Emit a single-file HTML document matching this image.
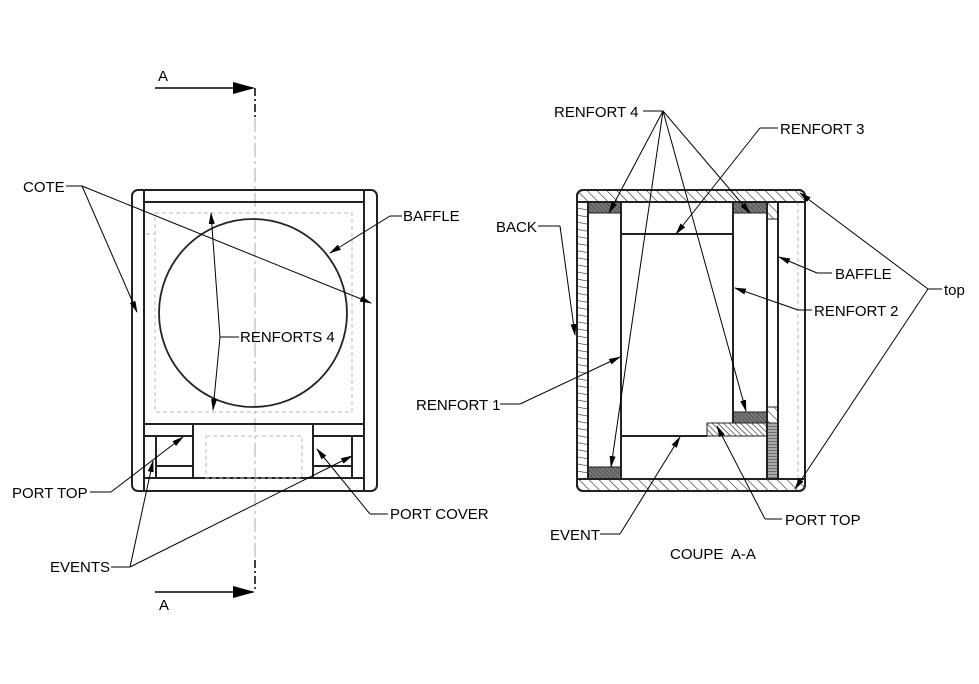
<!DOCTYPE html>
<html><head><meta charset="utf-8"><style>
html,body{margin:0;padding:0;background:#fff;}
svg{display:block}
text{font-family:"Liberation Sans",sans-serif;font-size:15px;fill:#000}
</style></head><body>
<svg width="979" height="684" viewBox="0 0 979 684" xmlns="http://www.w3.org/2000/svg">
<defs>
<marker id="ar" markerWidth="12" markerHeight="8" refX="11" refY="4" orient="auto" markerUnits="userSpaceOnUse"><path d="M0,1 L12,4 L0,7 Z" fill="#000"/></marker>
<pattern id="h1" width="7" height="7" patternUnits="userSpaceOnUse" patternTransform="rotate(-45)"><rect width="7" height="7" fill="#fff"/><line x1="0" y1="0" x2="0" y2="7" stroke="#222" stroke-width="1.2"/></pattern>
<pattern id="hl" width="7" height="7" patternUnits="userSpaceOnUse" patternTransform="rotate(-80)"><rect width="7" height="7" fill="#fff"/><line x1="0" y1="0" x2="0" y2="7" stroke="#222" stroke-width="1.2"/></pattern>
<pattern id="h2" width="3" height="3" patternUnits="userSpaceOnUse" patternTransform="rotate(-45)"><rect width="3" height="3" fill="#777"/><line x1="0" y1="0" x2="0" y2="3" stroke="#333" stroke-width="1"/></pattern>
<pattern id="h3" width="3" height="3" patternUnits="userSpaceOnUse"><rect width="3" height="3" fill="#aaa"/><line x1="0" y1="0" x2="3" y2="0" stroke="#333" stroke-width="1"/></pattern>
<pattern id="h4" width="4" height="4" patternUnits="userSpaceOnUse" patternTransform="rotate(-45)"><rect width="4" height="4" fill="#fff"/><line x1="0" y1="0" x2="0" y2="4" stroke="#222" stroke-width="1.2"/></pattern>
</defs>

<line x1="255" y1="88" x2="255" y2="118" stroke="#000" stroke-width="1.5" stroke-dasharray="8,3,2,3"/>
<line x1="255" y1="118" x2="255" y2="560" stroke="#aaa" stroke-width="1" stroke-dasharray="14,4,3,4"/>
<line x1="255" y1="560" x2="255" y2="592" stroke="#000" stroke-width="1.5" stroke-dasharray="8,3,2,3"/>
<line x1="155" y1="88" x2="253" y2="88" stroke="#000" stroke-width="1.5"/>
<path d="M233,82 L255,88 L233,94 Z" fill="#000"/>
<line x1="155" y1="592" x2="253" y2="592" stroke="#000" stroke-width="1.5"/>
<path d="M233,586 L255,592 L233,598 Z" fill="#000"/>
<text x="158" y="81">A</text>
<text x="159" y="610">A</text>

<g fill="none" stroke="#222" stroke-width="2">
<rect x="132" y="190" width="245" height="301" rx="6"/>
<line x1="144" y1="190" x2="144" y2="491"/>
<line x1="364" y1="190" x2="364" y2="491"/>
<line x1="144" y1="202" x2="364" y2="202"/>
<line x1="144" y1="478" x2="364" y2="478"/>
<line x1="144" y1="424" x2="364" y2="424"/>
<line x1="144" y1="436" x2="193" y2="436"/>
<line x1="313" y1="436" x2="364" y2="436"/>
<line x1="193" y1="424" x2="193" y2="478"/>
<line x1="313" y1="424" x2="313" y2="478"/>
<line x1="156" y1="436" x2="156" y2="478"/>
<line x1="352" y1="436" x2="352" y2="478"/>
<line x1="156" y1="466" x2="193" y2="466"/>
<line x1="313" y1="466" x2="352" y2="466"/>
<circle cx="253" cy="313" r="94" stroke-width="1.8"/>
</g>
<g fill="none" stroke="#bbb" stroke-width="1" stroke-dasharray="4,3">
<rect x="155" y="213" width="197" height="199"/>
<polyline points="146,234 155,234"/>
<rect x="206" y="436" width="96" height="42"/>
</g>

<g fill="none" stroke="#000" stroke-width="1">
<line x1="66" y1="186" x2="82" y2="186"/>
<line x1="82" y1="186" x2="137" y2="312" marker-end="url(#ar)"/>
<line x1="82" y1="186" x2="371" y2="303" marker-end="url(#ar)"/>
<line x1="402" y1="216" x2="390" y2="216"/>
<line x1="390" y1="216" x2="330" y2="253" marker-end="url(#ar)"/>
<line x1="239" y1="337" x2="220" y2="337"/>
<line x1="220" y1="337" x2="211" y2="213" marker-end="url(#ar)"/>
<line x1="220" y1="337" x2="213" y2="410" marker-end="url(#ar)"/>
<line x1="90" y1="492" x2="111" y2="492"/>
<line x1="111" y1="492" x2="183" y2="437" marker-end="url(#ar)"/>
<line x1="111" y1="567" x2="130" y2="567"/>
<line x1="130" y1="567" x2="153" y2="461" marker-end="url(#ar)"/>
<line x1="130" y1="567" x2="352" y2="456" marker-end="url(#ar)"/>
<line x1="388" y1="514" x2="370" y2="514"/>
<line x1="370" y1="514" x2="317" y2="449" marker-end="url(#ar)"/>
</g>
<text x="23" y="192">COTE</text>
<text x="403" y="221">BAFFLE</text>
<text x="240" y="342">RENFORTS 4</text>
<text x="12" y="498">PORT TOP</text>
<text x="50" y="572">EVENTS</text>
<text x="390" y="519">PORT COVER</text>

<rect x="577" y="190" width="228" height="301" rx="6" fill="url(#h1)" stroke="#222" stroke-width="2"/>
<rect x="578" y="202" width="10" height="277" fill="url(#hl)"/>
<rect x="588" y="202" width="216" height="277" fill="#fff"/>
<line x1="798" y1="202" x2="798" y2="479" stroke="#bbb" stroke-dasharray="4,3"/>
<rect x="588" y="202" width="33" height="11" fill="url(#h2)" stroke="#222"/>
<rect x="733" y="202" width="34" height="11" fill="url(#h2)" stroke="#222"/>
<rect x="588" y="467" width="33" height="12" fill="url(#h2)" stroke="#222"/>
<rect x="733" y="412" width="34" height="11" fill="url(#h2)" stroke="#222"/>
<rect x="707" y="423" width="60" height="13" fill="url(#h4)" stroke="#222"/>
<rect x="767" y="423" width="11" height="56" fill="url(#h3)" stroke="#222"/>
<rect x="767" y="202" width="11" height="17" fill="url(#h1)" stroke="#222"/>
<rect x="767" y="407" width="11" height="16" fill="url(#h1)" stroke="#222"/>
<g fill="none" stroke="#222" stroke-width="2">
<rect x="577" y="190" width="228" height="301" rx="6"/>
<line x1="577" y1="202" x2="805" y2="202"/>
<line x1="577" y1="479" x2="805" y2="479"/>
<line x1="588" y1="202" x2="588" y2="479"/>
<line x1="621" y1="202" x2="621" y2="479"/>
<line x1="733" y1="202" x2="733" y2="423"/>
<line x1="767" y1="202" x2="767" y2="479"/>
<line x1="778" y1="202" x2="778" y2="479"/>
<line x1="621" y1="234" x2="733" y2="234"/>
<line x1="621" y1="436" x2="707" y2="436"/>
</g>

<g fill="none" stroke="#000" stroke-width="1">
<line x1="643" y1="111" x2="663" y2="111"/>
<line x1="663" y1="111" x2="609" y2="213" marker-end="url(#ar)"/>
<line x1="663" y1="111" x2="611" y2="467" marker-end="url(#ar)"/>
<line x1="663" y1="111" x2="746" y2="411" marker-end="url(#ar)"/>
<line x1="663" y1="111" x2="750" y2="213" marker-end="url(#ar)"/>
<line x1="778" y1="128" x2="760" y2="128"/>
<line x1="760" y1="128" x2="676" y2="234" marker-end="url(#ar)"/>
<line x1="538" y1="226" x2="560" y2="226"/>
<line x1="560" y1="226" x2="575" y2="335" marker-end="url(#ar)"/>
<line x1="832" y1="273" x2="817" y2="273"/>
<line x1="817" y1="273" x2="779" y2="257" marker-end="url(#ar)"/>
<line x1="812" y1="310" x2="798" y2="310"/>
<line x1="798" y1="310" x2="735" y2="288" marker-end="url(#ar)"/>
<line x1="500" y1="404" x2="520" y2="404"/>
<line x1="520" y1="404" x2="620" y2="357" marker-end="url(#ar)"/>
<line x1="600" y1="534" x2="620" y2="534"/>
<line x1="620" y1="534" x2="680" y2="437" marker-end="url(#ar)"/>
<line x1="782" y1="519" x2="765" y2="519"/>
<line x1="765" y1="519" x2="717" y2="426" marker-end="url(#ar)"/>
<line x1="942" y1="289" x2="928" y2="289"/>
<line x1="928" y1="289" x2="800" y2="193" marker-end="url(#ar)"/>
<line x1="928" y1="289" x2="795" y2="489" marker-end="url(#ar)"/>
</g>
<text x="554" y="117">RENFORT 4</text>
<text x="780" y="134">RENFORT 3</text>
<text x="496" y="232">BACK</text>
<text x="835" y="279">BAFFLE</text>
<text x="814" y="316">RENFORT 2</text>
<text x="416" y="410">RENFORT 1</text>
<text x="550" y="540">EVENT</text>
<text x="785" y="525">PORT TOP</text>
<text x="944" y="295">top</text>
<text x="670" y="559">COUPE&#160; A-A</text>
</svg>
</body></html>
